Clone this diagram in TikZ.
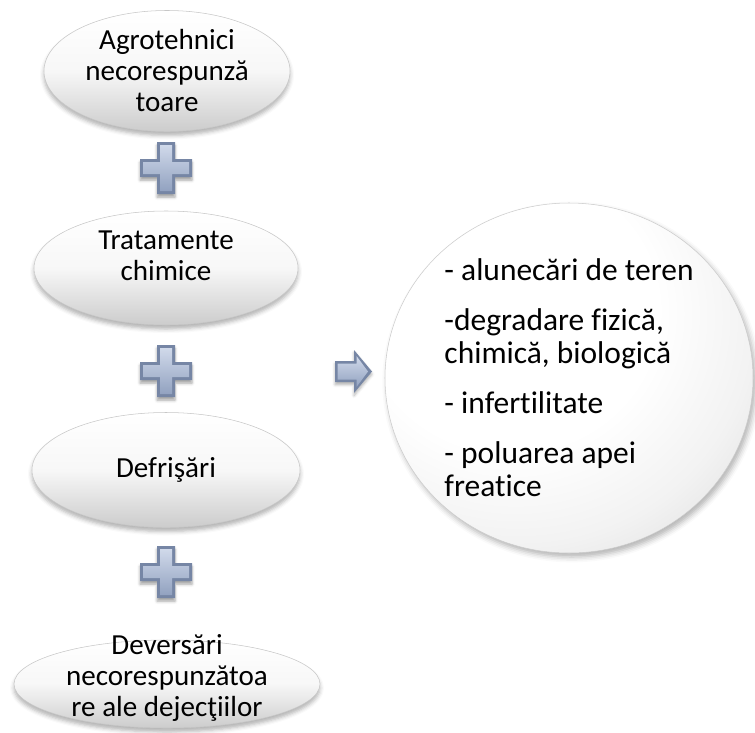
\documentclass[tikz,border=0pt]{standalone}
\usepackage{fontspec}
\setmainfont{Carlito}[Ligatures=CommonOff]
\definecolor{plusedge}{RGB}{118, 134, 165}
\definecolor{pluslight}{RGB}{208, 217, 234}
\definecolor{plusdark}{RGB}{146, 162, 192}
\usetikzlibrary{shapes.geometric, shadows.blur}
\pgfdeclareradialshading{bigshade}{\pgfpoint{-10bp}{12bp}}{%
    color(0bp)=(white); color(20bp)=(white); color(32bp)=(black!5);
    color(45bp)=(black!15); color(58bp)=(black!27); color(100bp)=(black!30)}

\begin{document}
\begin{tikzpicture}[
    x=0.75pt, y=-0.75pt,
    oval/.style={draw=black!22, line width=0.4pt, ellipse, inner sep=0pt,
                 top color=white, bottom color=black!20, middle color=white!97!black,
                 blur shadow={shadow xshift=0pt, shadow yshift=-3pt, shadow blur radius=3pt,
                              shadow opacity=30}},
    lbl/.style={align=center, font=\fontsize{21.8}{23.25}\selectfont, text=black},
    big/.style={draw=black!20, line width=0.4pt, ellipse, inner sep=0pt,
                shading=bigshade,
                blur shadow={shadow xshift=2pt, shadow yshift=-3pt, shadow blur radius=4pt,
                             shadow opacity=30}},
    biglbl/.style={align=left, font=\fontsize{23.6}{24.75}\selectfont, text=black},
    plus/.pic={
        \path[fill=plusedge, blur shadow={shadow xshift=0pt, shadow yshift=-2.5pt,
              shadow blur radius=2pt, shadow opacity=35}]
            (-9,-26) -- (9,-26) -- (9,-9) -- (26,-9) -- (26,9) -- (9,9) -- (9,26)
            -- (-9,26) -- (-9,9) -- (-26,9) -- (-26,-9) -- (-9,-9) -- cycle;
        \path[top color=pluslight, bottom color=plusdark]
            (-6,-23) -- (6,-23) -- (6,-6) -- (23,-6) -- (23,6) -- (6,6) -- (6,23)
            -- (-6,23) -- (-6,6) -- (-23,6) -- (-23,-6) -- (-6,-6) -- cycle;
    },
    arrowsym/.pic={
        \path[fill=plusedge, blur shadow={shadow xshift=0pt, shadow yshift=-2pt,
              shadow blur radius=2pt, shadow opacity=30}]
            (-18,-10.5) -- (1,-10.5) -- (1,-21.5) -- (19,0) -- (1,21.5) -- (1,10.5)
            -- (-18,10.5) -- cycle;
        \path[top color=pluslight, bottom color=plusdark]
            (-15.5,-8) -- (3.5,-8) -- (3.5,-15.5) -- (15,0) -- (3.5,15.5) -- (3.5,8)
            -- (-15.5,8) -- cycle;
    }
]
    \useasboundingbox (0,0) rectangle (755,732);

    % causes
    \node[oval, minimum width=184.5pt, minimum height=90.75pt,
          label={[lbl]center:Agrotehnici\\necorespunză\\toare}] (agro) at (167,71) {};
    \node[oval, minimum width=198pt, minimum height=85.5pt,
          label={[lbl, yshift=9pt]center:Tratamente\\chimice}] (trat) at (166,268) {};
    \node[oval, minimum width=201pt, minimum height=86.25pt,
          label={[lbl]center:Defrişări}] (defris) at (166,470) {};
    \node[oval, minimum width=229.5pt, minimum height=66pt,
          label={[lbl, yshift=4.5pt]center:Deversări\\necorespunzătoa\\re ale dejecţiilor}] (devers) at (167,684) {};

    % plus signs and arrow
    \pic at (166,168) {plus};
    \pic at (166,371) {plus};
    \pic at (166,572) {plus};
    \pic at (353,371.5) {arrowsym};

    % effects
    \node[big, minimum width=276pt, minimum height=262.5pt,
          label={[biglbl]center:- alunecări de teren\\[12.75pt]-degradare fizică,\\chimică, biologică\\[12.75pt]- infertilitate\\[12.75pt]- poluarea apei\\freatice}] (efecte) at (569,378) {};
\end{tikzpicture}
\end{document}
